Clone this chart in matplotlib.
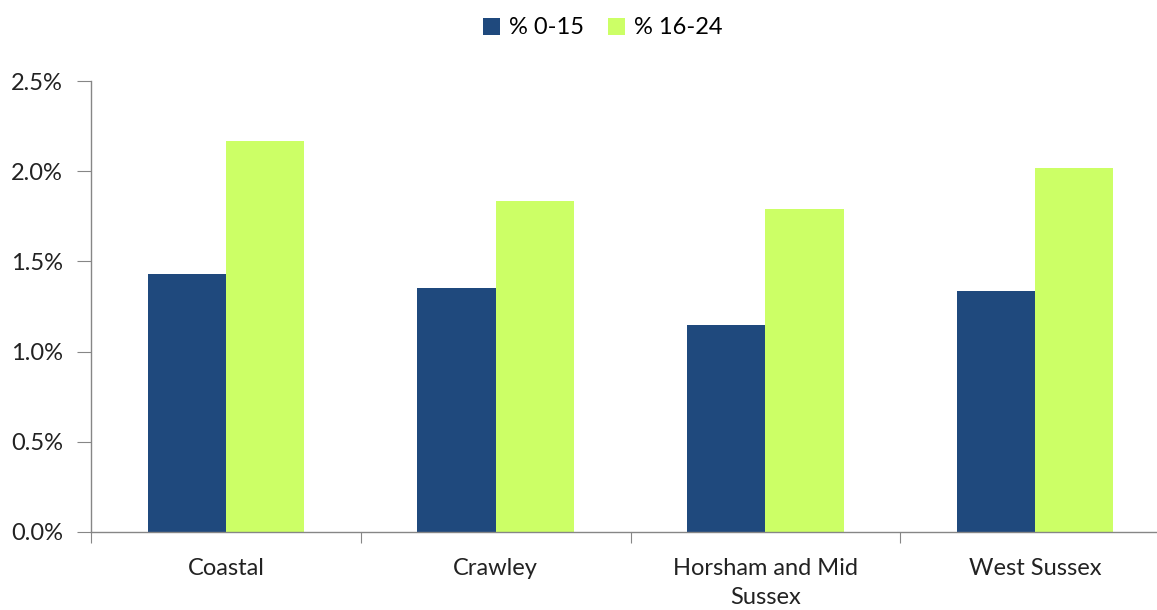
import matplotlib
matplotlib.use("Agg")
import matplotlib.pyplot as plt
import numpy as np

categories = ["Coastal", "Crawley", "Horsham and Mid\nSussex", "West Sussex"]
pct_0_15 = [1.43, 1.35, 1.15, 1.335]
pct_16_24 = [2.165, 1.835, 1.79, 2.02]
series_names = ["% 0-15", "% 16-24"]
colors = ["#1F497D", "#CCFF66"]

plt.rcParams['font.family'] = ['Lato', 'DejaVu Sans']

fig = plt.figure(figsize=(11.57, 6.10), dpi=100)
W, H = 1157, 610
ax = fig.add_axes([91 / W, 1 - 532 / H, (1170 - 91) / W, (532 - 81) / H])

x = np.arange(len(categories))
bw = 0.29
ax.bar(x - bw / 2, pct_0_15, bw, color=colors[0], label=series_names[0])
ax.bar(x + bw / 2, pct_16_24, bw, color=colors[1], label=series_names[1])

ax.set_xlim(-0.5, len(categories) - 0.5)
ax.set_ylim(0, 2.5)
ax.set_yticks(np.arange(0, 2.51, 0.5))
ax.set_yticklabels([f"{v:.1f}%" for v in np.arange(0, 2.51, 0.5)])

# group boundaries as major ticks, category names on minor ticks
ax.set_xticks(np.arange(-0.5, len(categories), 1.0))
ax.set_xticklabels([])
ax.set_xticks(x, minor=True)
ax.set_xticklabels(categories, minor=True, linespacing=1.45)
ax.tick_params(axis='x', which='minor', length=0, pad=19, labelsize=17, colors='#222222')
ax.tick_params(axis='x', which='major', length=8, color='#868686', direction='out')
ax.tick_params(axis='y', length=10, color='#868686', pad=10, labelsize=17, labelcolor='#222222')

for s in ['top', 'right']:
    ax.spines[s].set_visible(False)
for s in ['left', 'bottom']:
    ax.spines[s].set_color('#868686')
    ax.spines[s].set_linewidth(1.0)

fig.legend(loc='center', bbox_to_anchor=(603 / W, 1 - 28 / H), ncol=2, frameon=False,
           fontsize=17, handlelength=0.7, handleheight=0.7, handletextpad=0.4,
           columnspacing=1.0)

fig.savefig("out.png", dpi=100)
